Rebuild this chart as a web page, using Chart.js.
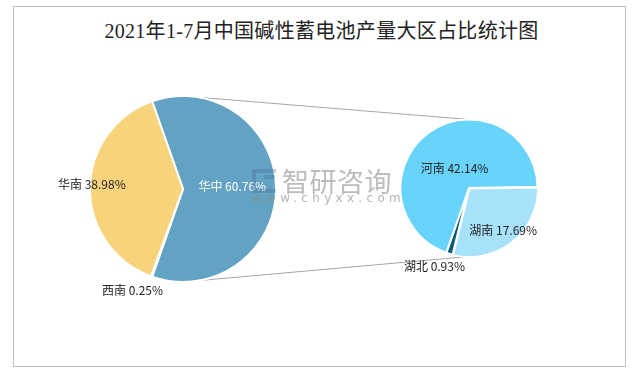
<!DOCTYPE html>
<html>
<head>
<meta charset="utf-8">
<script src="https://cdn.jsdelivr.net/npm/chart.js@4.4.1/dist/chart.umd.min.js"></script>
<style>
    body { margin: 0; background: #fff; }
    #wrap { position: relative; width: 643px; height: 374px; overflow: hidden; font-family: "Noto Sans CJK SC", sans-serif; }
    #frame { position: absolute; left: 13px; top: 6px; width: 611px; height: 359px; border: 1px solid #BFBFBF; }
    #title { position: absolute; left: 0; top: 15px; width: 643px; text-align: center; font-size: 20px; color: #222;
             font-family: "Liberation Serif", "Noto Sans CJK SC", serif; letter-spacing: 0.3px; }
    canvas { position: absolute; left: 0; top: 0; }
    #mark { position: absolute; left: 251px; top: 163px; width: 150px; height: 45px; pointer-events: none; }
    #mark .logo { position: absolute; left: 1px; top: 6px; width: 20px; height: 16px; border: 4px solid rgba(70,100,140,0.3); border-right: none; }
    #mark .logo2 { position: absolute; left: 13px; top: 12px; width: 11px; height: 4px; background: rgba(70,100,140,0.3); }
    #mark .cn { position: absolute; left: 31px; top: -2px; font-size: 27px; letter-spacing: 0.5px; color: rgba(160,160,160,0.7); }
    #mark .url { position: absolute; left: 1px; top: 28px; font-size: 12px; letter-spacing: 4.3px; color: rgba(140,140,140,0.65); font-family: "DejaVu Sans", sans-serif; }
</style>
</head>
<body>
<div id="wrap">
    <div id="frame"></div>
    <div id="title">2021年1-7月中国碱性蓄电池产量大区占比统计图</div>
    <canvas id="lines" width="643" height="374"></canvas>
    <canvas id="mainPie"></canvas>
    <canvas id="subPie"></canvas>
    <div id="mark">
        <div class="logo"></div><div class="logo2"></div>
        <div class="cn">智研咨询</div>
        <div class="url">www.chyxx.com</div>
    </div>
</div>
<script>
// ---------- DATA ----------
const mainLabels = ['华中', '西南', '华南'];
const mainValues = [60.76, 0.25, 38.98];
const mainColors = ['#62A3C3', '#E8E8E8', '#F7D37B'];

const subLabels = ['湖南', '湖北', '河南'];
const subValues = [17.69, 0.93, 42.14];
const subColors = ['#A8E2FA', '#0E5C78', '#69D4FB'];

// ---------- LABEL PLUGIN ----------
// each label: {r: fraction of radius} or {edge: true, dx, dy}
const sliceLabels = {
    id: 'sliceLabels',
    afterDatasetsDraw(chart, args, opts) {
        const ctx = chart.ctx;
        const meta = chart.getDatasetMeta(0);
        const vals = chart.data.datasets[0].data;
        ctx.save();
        ctx.font = '12px "Noto Sans CJK SC", sans-serif';
        ctx.textAlign = 'center';
        ctx.textBaseline = 'middle';
        meta.data.forEach((arc, i) => {
            const p = opts.place[i];
            const mid = (arc.startAngle + arc.endAngle) / 2;
            const k = p.edge ? 1 : p.r;
            const x = arc.x + Math.cos(mid) * arc.outerRadius * k + (p.dx || 0);
            const y = arc.y + Math.sin(mid) * arc.outerRadius * k + (p.dy || 0);
            ctx.fillStyle = p.color || '#222';
            ctx.fillText(chart.data.labels[i] + ' ' + vals[i].toFixed(2) + '%', x, y);
        });
        ctx.restore();
    }
};

function makePie(id, labels, values, colors, rotation, pad, place, offsets) {
    const cv = document.getElementById(id);
    cv.width = 643; cv.height = 374;
    return new Chart(cv, {
        type: 'pie',
        data: {
            labels: labels,
            datasets: [{
                data: values,
                backgroundColor: colors,
                borderColor: '#fff',
                borderWidth: 2,
                offset: offsets
            }]
        },
        options: {
            responsive: false,
            animation: false,
            rotation: rotation,
            layout: { padding: pad },
            plugins: {
                legend: { display: false },
                tooltip: { enabled: false },
                sliceLabels: { place: place }
            }
        },
        plugins: [sliceLabels]
    });
}

const mainChart = makePie('mainPie', mainLabels, mainValues, mainColors, -19.4,
    { left: 89, top: 95, right: 366, bottom: 91 }, [
    { r: 0.53, dy: -3, color: '#fff' },
    { edge: true, dx: -19, dy: 14 },
    { r: 0.98, dy: -4 }
], [0, 0, 0]);

const subChart = makePie('subPie', subLabels, subValues, subColors, 89,
    { left: 398, top: 117, right: 103, bottom: 115 }, [
    { r: 0.8, dx: 0, dy: 0 },
    { edge: true, dx: -15, dy: 13 },
    { r: 0.36, dy: 0 }
], [3, 0, 0]);

// ---------- CONNECTOR LINES ----------
function drawConnectors() {
    const ctx = document.getElementById('lines').getContext('2d');
    const a = mainChart.getDatasetMeta(0).data[0];
    const b = subChart.getDatasetMeta(0).data[2];
    ctx.strokeStyle = '#A6A6A6';
    ctx.lineWidth = 1;
    ctx.beginPath();
    ctx.moveTo(a.x, a.y - a.outerRadius); ctx.lineTo(b.x, b.y - b.outerRadius);
    ctx.moveTo(a.x, a.y + a.outerRadius); ctx.lineTo(b.x, b.y + b.outerRadius);
    ctx.stroke();
}
drawConnectors();
</script>
</body>
</html>
